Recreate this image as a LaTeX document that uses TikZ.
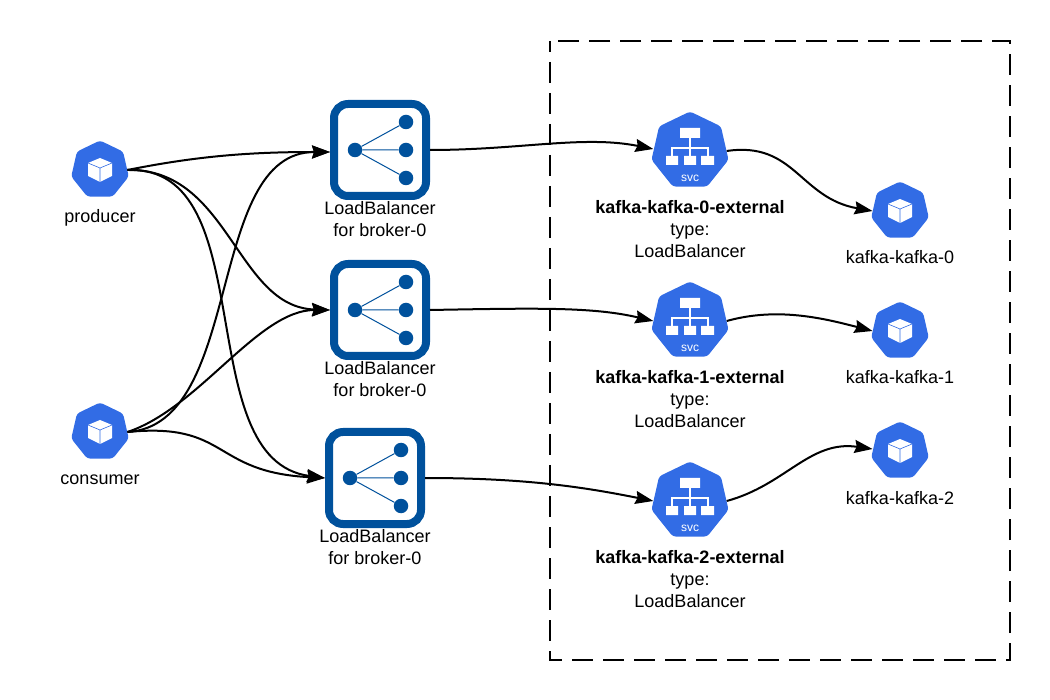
\documentclass[tikz,border=0pt]{standalone}
\usepackage{fontspec}
\setmainfont{Liberation Sans}
\usetikzlibrary{arrows.meta,shapes.geometric}
\definecolor{kubeblue}{HTML}{326CE5}
\definecolor{lbblue}{HTML}{00519C}
% pod icon: name, position, label
\newcommand{\podicon}[3]{
  \node[kube,minimum size=59pt] (#1) at (#2) {};
  \fill[white,shift={(#1.center)}] (0,-12) -- (12,-7) -- (12,6) -- (0,12) -- (-12,6) -- (-12,-7) -- cycle;
  \draw[kubeblue,line width=.6pt,shift={(#1.center)}] (-12,-7) -- (0,-2) -- (12,-7) (0,-2) -- (0,12);
  \node[txt,anchor=base] (#1label) at ([yshift=-53pt]#1.center) {#3};
}
% service icon: name, position, label
\newcommand{\svcicon}[3]{
  \node[kube,minimum size=79pt] (#1) at (#2) {};
  \draw[white,line width=1.4pt,shift={(#1.center)}] (0,-14) -- (0,5) (-18,5) -- (-18,-3) -- (18,-3) -- (18,5);
  \fill[white,shift={(#1.center)}] (-10,-23) rectangle (10,-13)
    (-24,5) rectangle (-12,14) (-6,5) rectangle (6,14) (11,5) rectangle (24,14);
  \node[white,font=\fontsize{12}{12}\selectfont,inner sep=0pt] (#1svc) at ([yshift=-27pt]#1.center) {svc};
  \node[txt] (#1label) at ([yshift=-78pt]#1.center) {\textbf{#3}\\type:\\LoadBalancer};
}
% load balancer icon: name, position
\newcommand{\lbicon}[2]{
  \node[lbbox] (#1) at (#2) {};
  \node[lbdot] (#1hub) at ([xshift=-25pt]#1.center) {};
  \node[lbdot] (#1a) at ([xshift=26pt,yshift=-28pt]#1.center) {};
  \node[lbdot] (#1b) at ([xshift=26pt]#1.center) {};
  \node[lbdot] (#1c) at ([xshift=26pt,yshift=28pt]#1.center) {};
  \draw[lbblue,line width=1pt] (#1hub) -- (#1a) (#1hub) -- (#1b) (#1hub) -- (#1c);
  \node[txt] (#1label) at ([yshift=-69pt]#1.center) {LoadBalancer\\for broker-0};
}
\begin{document}
\begin{tikzpicture}[x=1pt,y=-1pt]
    \tikzstyle{kube}=[regular polygon,regular polygon sides=7,fill=kubeblue,rounded corners=3pt,inner sep=0pt]
    \tikzstyle{lbbox}=[draw=lbblue,line width=8pt,rounded corners=14pt,minimum size=92pt,inner sep=0pt,fill=white]
    \tikzstyle{lbdot}=[circle,fill=lbblue,minimum size=14.5pt,inner sep=0pt]
    \tikzstyle{txt}=[align=center,inner sep=0pt,font=\fontsize{18}{22}\selectfont]
    \tikzstyle{link}=[-{Stealth[length=18pt,width=13pt,inset=2pt]},line width=2pt]
    \useasboundingbox (0,0) rectangle (1050,700);
    \draw[line width=2pt,dash pattern=on 21pt off 10pt,dash phase=10pt] (550,41) rectangle (1010,660);

    \podicon{producer}{100,170}{producer}
    \podicon{consumer}{100,432}{consumer}
    \lbicon{lbzero}{380,150}
    \lbicon{lbone}{380,310}
    \lbicon{lbtwo}{375,478}
    \svcicon{svczero}{690,151}{kafka-kafka-0-external}
    \svcicon{svcone}{690,321}{kafka-kafka-1-external}
    \svcicon{svctwo}{690,501}{kafka-kafka-2-external}
    \podicon{podzero}{900,211}{kafka-kafka-0}
    \podicon{podone}{900,331}{kafka-kafka-1}
    \podicon{podtwo}{900,451}{kafka-kafka-2}

    \draw[link] (producer.east) .. controls +(70,-14) and +(-80,0) .. ([yshift=-2pt]lbzero.west);
    \draw[link] (producer.east) .. controls +(102,-2) and +(-94,-3) .. (lbone.west);
    \draw[link] (producer.east) .. controls +(137,-5) and +(-137,-18) .. (lbtwo.west);
    \draw[link] (consumer.east) .. controls +(117,-7) and +(-125,0) .. ([yshift=-2pt]lbzero.west);
    \draw[link] (consumer.east) .. controls +(72,-24) and +(-72,0) .. (lbone.west);
    \draw[link] (consumer.east) .. controls +(102,-10) and +(-114,-6) .. (lbtwo.west);
    \draw[link] (lbzero.east) .. controls +(90,0) and +(-70,-14) .. ([yshift=2pt]svczero.west);
    \draw[link] (lbone.east) .. controls +(110,-2) and +(-60,-14) .. (svcone.west);
    \draw[link] (lbtwo.east) .. controls +(100,0) and +(-70,-14) .. (svctwo.west);
    \draw[link] (svczero.east) .. controls +(68,-10) and +(-73,-13) .. (podzero.west);
    \draw[link] (svcone.east) .. controls +(50,-14) and +(-50,-13) .. (podone.west);
    \draw[link] (svctwo.east) .. controls +(59,-16) and +(-63,-9) .. ([yshift=2pt]podtwo.west);
\end{tikzpicture}
\end{document}
